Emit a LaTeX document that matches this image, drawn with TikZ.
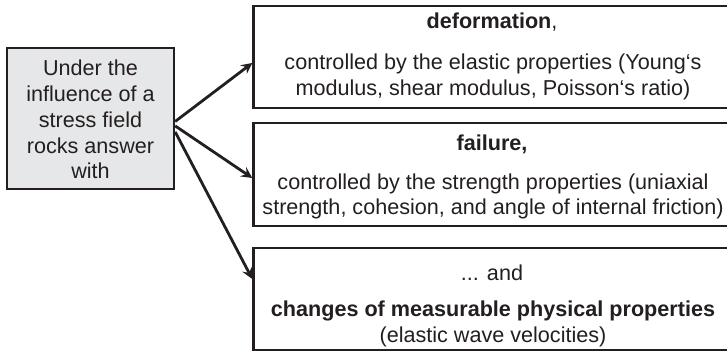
\documentclass[tikz,border=0pt]{standalone}
\usepackage{fontspec}
\setmainfont{Liberation Sans}
\usetikzlibrary{arrows, positioning, calc}
\usepackage{xcolor}
\definecolor{rockgray}{RGB}{230, 231, 232}
\definecolor{rockline}{RGB}{35, 31, 32}
\tikzstyle{cause} = [rectangle, draw=rockline, fill=rockgray, line width=1.2pt, minimum width=83.5pt, minimum height=70.5pt, inner sep=0pt]
\tikzstyle{response} = [rectangle, draw=rockline, fill=white, line width=1.2pt, minimum width=239pt, inner sep=0pt]
\tikzstyle{label} = [align=center, inner sep=0pt, text=rockline, font=\fontsize{10.8}{12.9}\selectfont]
\tikzstyle{arrow} = [line width=1.4pt,->,>=stealth,rockline]

\begin{document}
\begin{tikzpicture}[x=0.5pt, y=-0.5pt]
\useasboundingbox (0,0) rectangle (727,351);
\clip (0,0) rectangle (727,351);

% Stress field on the left
\node[cause] (stress) at (90.5,118.5) {};
\node[label] (stresstext) at (90.5,119.5) {Under the\\influence of a\\stress field\\rocks answer\\with};

% Three responses on the right
\node[response, minimum height=51pt] (defbox) at (492.5,57) {};
\node[label] (deftitle) at (492,22) {\textbf{deformation},};
\node[label] (deftext) at (493,77) {controlled by the elastic properties (Young‘s\\modulus, shear modulus, Poisson‘s ratio)};

\node[response, minimum height=51.5pt] (failbox) at (492.5,174.5) {};
\node[label] (failtitle) at (492,144) {\textbf{failure,}};
\node[label] (failtext) at (493,196.5) {controlled by the strength properties (uniaxial\\strength, cohesion, and angle of internal friction)};

\node[response, minimum height=51pt] (physbox) at (492.5,299) {};
\node[label] (phystitle) at (492,273) {... and};
\node[label] (phystext) at (493,324) {\textbf{changes of measurable physical properties}\\(elastic wave velocities)};

% Arrows
\draw[arrow] (stress.-2.4) -- ([yshift=-3pt]defbox.west);
\draw[arrow] (stress.-5.8) -- ([yshift=-1.75pt]failbox.west);
\draw[arrow] (stress.-9.2) -- ([yshift=10pt]physbox.west);
\end{tikzpicture}
\end{document}
